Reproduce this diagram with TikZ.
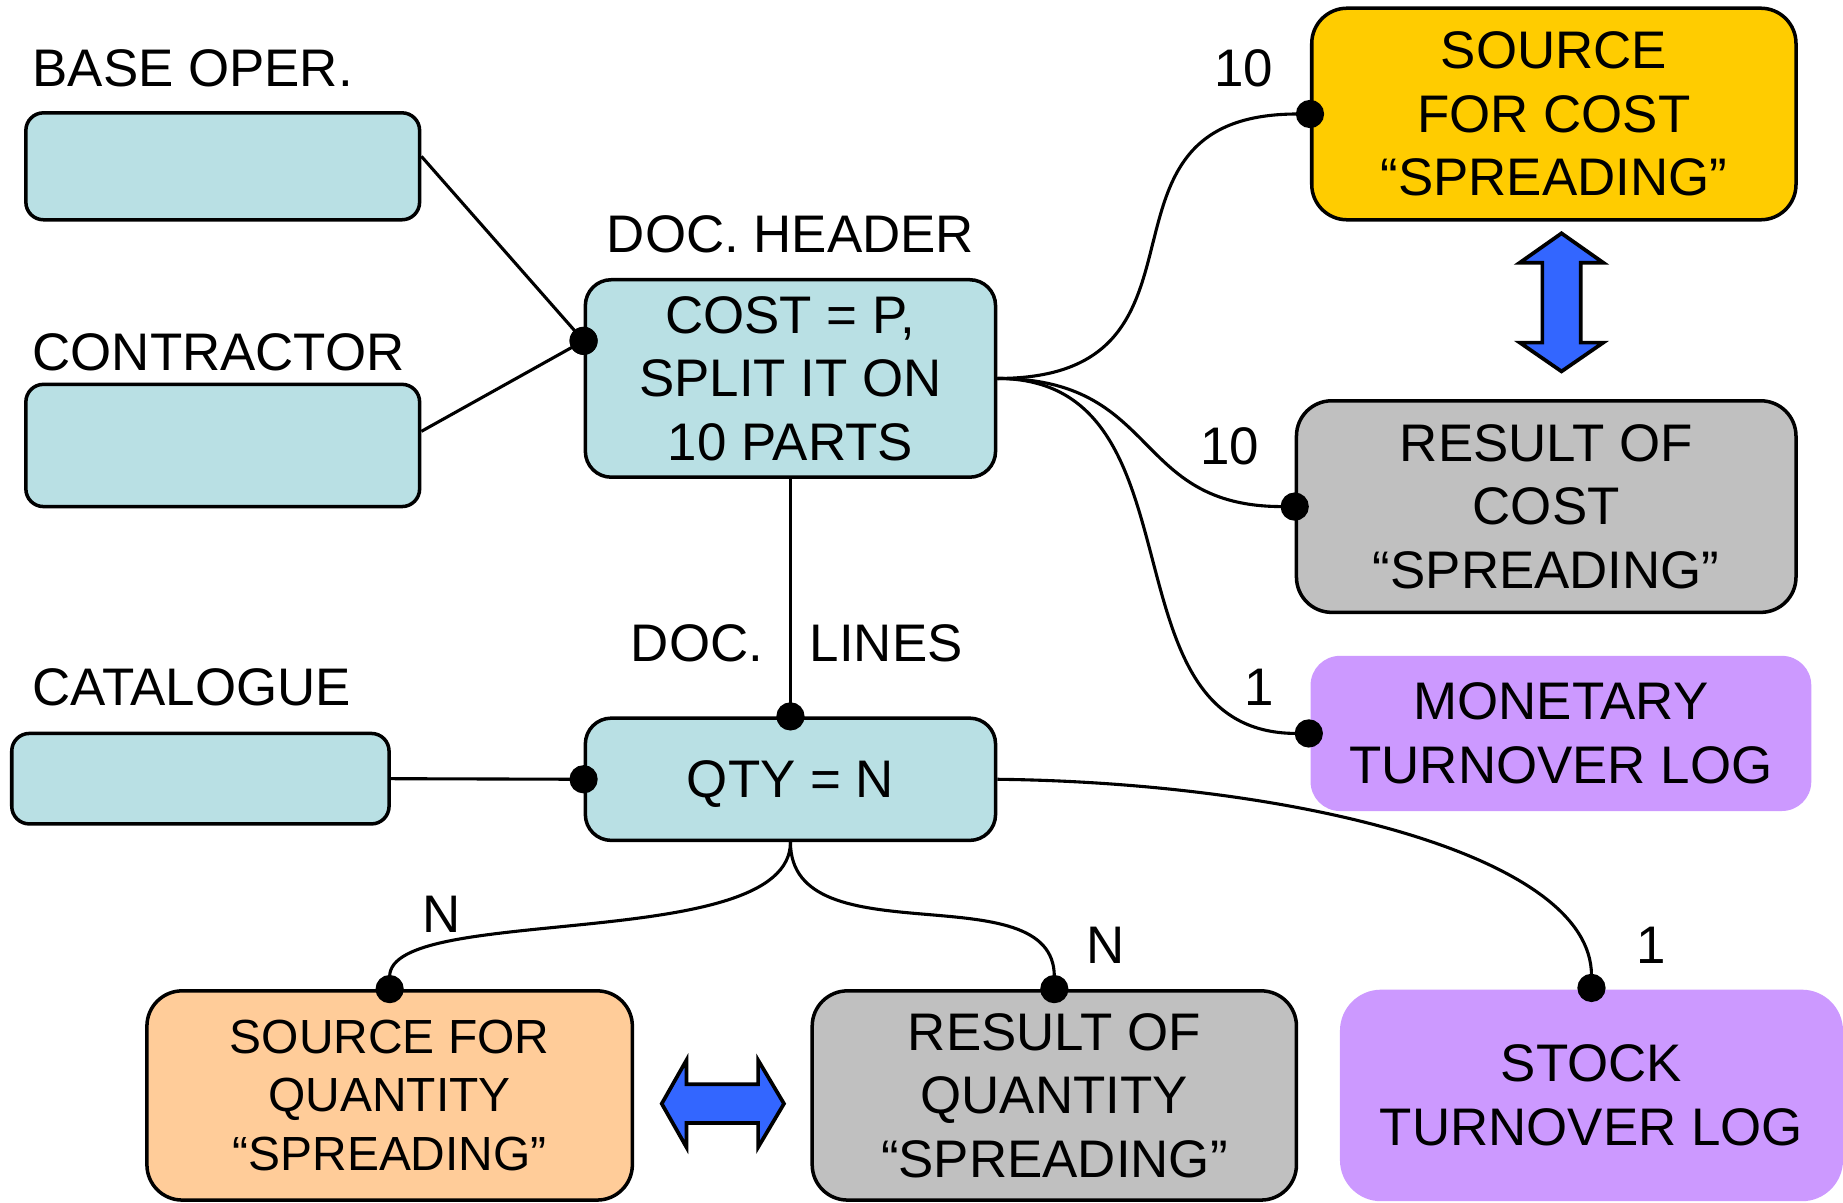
\documentclass[tikz,border=0pt]{standalone}
\usepackage{fontspec}
\setmainfont{Liberation Sans}
\usepackage{xcolor}
\usepackage{tikz}
\usetikzlibrary{arrows.meta}
\definecolor{paleblue}{HTML}{B9E0E4}
\definecolor{costyellow}{HTML}{FFCC00}
\definecolor{resultgray}{HTML}{C0C0C0}
\definecolor{logpurple}{HTML}{CC99FF}
\definecolor{qtyorange}{HTML}{FFCC99}
\definecolor{arrowblue}{HTML}{3366FF}

\begin{document}
\begin{tikzpicture}[box/.style={draw, line width=0.85pt, rounded corners=#1,
        align=center, inner sep=0mm,
        font=\fontsize{12.8}{15.4}\selectfont},
        box/.default=2mm,
        lbl/.style={inner sep=0mm, font=\fontsize{12.8}{15.4}\selectfont},
        link/.style={line width=0.75pt, -{Circle[length=2.4mm]}, shorten >=-1.2mm},
        blockarrow/.style={draw, line width=0.9pt, fill=arrowblue, line join=miter}]
    \useasboundingbox (0,0) rectangle (15.68,-10.23);
    % boxes
    \node[box=1.5mm, fill=paleblue, minimum width=3.35cm, minimum height=0.91cm] at (1.895,-1.415) (baseoper) {};
    \node[box=1.5mm, fill=paleblue, minimum width=3.35cm, minimum height=1.04cm] at (1.895,-3.79) (contractor) {};
    \node[box=1.5mm, fill=paleblue, minimum width=3.21cm, minimum height=0.77cm] at (1.705,-6.625) (catalogue) {};
    \node[box=2.2mm, fill=paleblue, minimum width=3.49cm, minimum height=1.68cm] at (6.725,-3.22) (header) {COST = P,\\SPLIT IT ON\\10 PARTS};
    \node[box=2.2mm, fill=paleblue, minimum width=3.49cm, minimum height=1.04cm, text depth=0mm] at (6.725,-6.63) (qty) {QTY = N};
    \node[box=3mm, fill=costyellow, minimum width=4.12cm, minimum height=1.8cm] at (13.22,-0.97) (srccost) {SOURCE\\FOR COST\\“SPREADING”};
    \node[box=3mm, fill=resultgray, minimum width=4.25cm, minimum height=1.8cm] at (13.155,-4.31) (rescost) {RESULT OF\\COST\\“SPREADING”};
    \node[box=2.5mm, draw=none, fill=logpurple, minimum width=4.26cm, minimum height=1.32cm] at (13.28,-6.24) (monetary) {MONETARY\\TURNOVER LOG};
    \node[box=3mm, fill=qtyorange, minimum width=4.13cm, minimum height=1.78cm, font=\fontsize{11.6}{14.1}\selectfont] at (3.315,-9.32) (srcqty) {SOURCE FOR\\QUANTITY\\“SPREADING”};
    \node[box=3mm, fill=resultgray, minimum width=4.12cm, minimum height=1.78cm] at (8.97,-9.32) (resqty) {RESULT OF\\QUANTITY\\“SPREADING”};
    \node[box=3.5mm, draw=none, fill=logpurple, minimum width=4.28cm, minimum height=1.8cm] at (13.54,-9.32) (stock) {STOCK\\TURNOVER LOG};
    % labels
    \node[lbl, anchor=west] at (0.27,-0.58) (baselbl) {BASE OPER.};
    \node[lbl, anchor=west] at (0.27,-3.0) (contrlbl) {CONTRACTOR};
    \node[lbl, anchor=west] at (0.27,-5.85) (catlbl) {CATALOGUE};
    \node[lbl] at (6.725,-1.99) (hdrlbl) {DOC. HEADER};
    \node[lbl] at (5.93,-5.47) (doclbl) {DOC.};
    \node[lbl] at (7.54,-5.47) (lineslbl) {LINES};
    \node[lbl] at (10.58,-0.58) (costnum) {10};
    \node[lbl] at (10.46,-3.8) (resnum) {10};
    \node[lbl] at (10.71,-5.85) (monnum) {1};
    \node[lbl] at (3.76,-7.78) (srcqnum) {N};
    \node[lbl] at (9.41,-8.04) (resqnum) {N};
    \node[lbl] at (14.05,-8.04) (stocknum) {1};
    % links
    \coordinate (hdrin) at ([yshift=3.2mm]header.west);
    \draw[link] ([yshift=0.85mm]baseoper.east) -- (hdrin);
    \draw[link] ([yshift=1.2mm]contractor.east) -- (hdrin);
    \draw[link] (header.east) to[out=0, in=180, looseness=1.5] (srccost.west);
    \draw[link] (header.east) to[out=0, in=180, looseness=1.3] (rescost.west);
    \draw[link] (header.east) to[out=0, in=180, looseness=1.15] (monetary.west);
    \draw[link] (header.south) -- (qty.north);
    \draw[link] (catalogue.east) -- (qty.west);
    \draw[link] (qty.south) .. controls +(0,-0.95) and +(0,0.73) .. (srcqty.north);
    \draw[link] (qty.south) to[out=-90, in=90] (resqty.north);
    \draw[link] (qty.east) .. controls +(2.53,-0.03) and +(0,1.13) .. (stock.north);
    % two-way arrows
    \draw[blockarrow] (13.285,-1.985) -- (13.64,-2.235) -- (13.448,-2.235) -- (13.448,-2.915) -- (13.64,-2.915) -- (13.285,-3.16)
        -- (12.93,-2.915) -- (13.122,-2.915) -- (13.122,-2.235) -- (12.93,-2.235) -- cycle;
    \draw[blockarrow] (5.63,-9.39) -- (5.84,-9.02) -- (5.84,-9.225) -- (6.45,-9.225) -- (6.45,-9.02) -- (6.67,-9.39)
        -- (6.45,-9.76) -- (6.45,-9.555) -- (5.84,-9.555) -- (5.84,-9.76) -- cycle;
\end{tikzpicture}
\end{document}
